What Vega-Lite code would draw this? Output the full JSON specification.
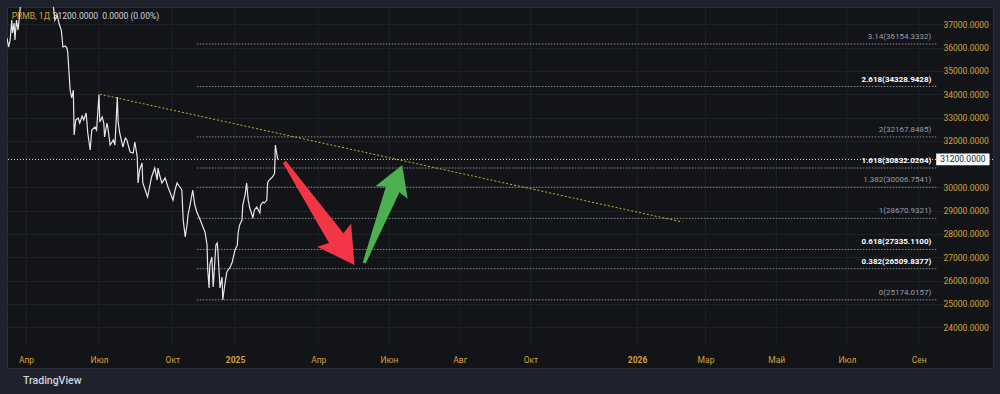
{
  "$schema": "https://vega.github.io/schema/vega-lite/v6.json",
  "width": 986,
  "height": 361,
  "autosize": {"type": "none"},
  "padding": {"left": 7, "top": 7, "right": 7, "bottom": 26},
  "background": "#1e222d",
  "config": {
    "font": "Roboto",
    "view": {"fill": "#121418", "stroke": "#2a2e39", "strokeWidth": 1},
    "axis": {"labelFont": "Roboto"},
    "text": {"font": "Roboto"}
  },
  "title": {
    "text": "TradingView",
    "orient": "bottom",
    "anchor": "start",
    "frame": "group",
    "color": "#d1d4dc",
    "fontSize": 10.5,
    "fontWeight": 500,
    "font": "Roboto",
    "dx": 16,
    "offset": 8
  },
  "resolve": {"axis": {"x": "independent", "y": "independent"}},
  "datasets": {
    "close": [
      {"date": "2024-03-08", "price": 36412},
      {"date": "2024-03-10", "price": 36026},
      {"date": "2024-03-12", "price": 36326},
      {"date": "2024-03-14", "price": 37185},
      {"date": "2024-03-15", "price": 36627},
      {"date": "2024-03-17", "price": 37056},
      {"date": "2024-03-18", "price": 36326},
      {"date": "2024-03-20", "price": 37185},
      {"date": "2024-03-22", "price": 36755},
      {"date": "2024-03-26", "price": 38150},
      {"date": "2024-03-30", "price": 38700},
      {"date": "2024-04-04", "price": 38350},
      {"date": "2024-04-09", "price": 39000},
      {"date": "2024-04-15", "price": 38550},
      {"date": "2024-04-21", "price": 39100},
      {"date": "2024-04-26", "price": 38650},
      {"date": "2024-05-01", "price": 38900},
      {"date": "2024-05-04", "price": 38100},
      {"date": "2024-05-07", "price": 37185},
      {"date": "2024-05-10", "price": 37399},
      {"date": "2024-05-12", "price": 37056},
      {"date": "2024-05-15", "price": 36755},
      {"date": "2024-05-17", "price": 36026},
      {"date": "2024-05-20", "price": 36069},
      {"date": "2024-05-22", "price": 35983},
      {"date": "2024-05-23", "price": 35811},
      {"date": "2024-05-26", "price": 34180},
      {"date": "2024-05-28", "price": 33837},
      {"date": "2024-05-30", "price": 34180},
      {"date": "2024-05-31", "price": 32249},
      {"date": "2024-06-02", "price": 32893},
      {"date": "2024-06-05", "price": 32978},
      {"date": "2024-06-07", "price": 32764},
      {"date": "2024-06-10", "price": 33064},
      {"date": "2024-06-12", "price": 32893},
      {"date": "2024-06-15", "price": 33193},
      {"date": "2024-06-17", "price": 32335},
      {"date": "2024-06-20", "price": 31605},
      {"date": "2024-06-22", "price": 32463},
      {"date": "2024-06-26", "price": 32592},
      {"date": "2024-06-28", "price": 32463},
      {"date": "2024-07-01", "price": 33990},
      {"date": "2024-07-02", "price": 32807},
      {"date": "2024-07-05", "price": 33021},
      {"date": "2024-07-07", "price": 32764},
      {"date": "2024-07-08", "price": 32163},
      {"date": "2024-07-11", "price": 32764},
      {"date": "2024-07-12", "price": 32592},
      {"date": "2024-07-15", "price": 31820},
      {"date": "2024-07-19", "price": 32035},
      {"date": "2024-07-21", "price": 31820},
      {"date": "2024-07-24", "price": 33880},
      {"date": "2024-07-25", "price": 32807},
      {"date": "2024-07-27", "price": 32335},
      {"date": "2024-07-31", "price": 31734},
      {"date": "2024-08-03", "price": 32120},
      {"date": "2024-08-05", "price": 32035},
      {"date": "2024-08-09", "price": 31519},
      {"date": "2024-08-13", "price": 31476},
      {"date": "2024-08-15", "price": 31949},
      {"date": "2024-08-18", "price": 31305},
      {"date": "2024-08-19", "price": 30189},
      {"date": "2024-08-21", "price": 30747},
      {"date": "2024-08-24", "price": 31047},
      {"date": "2024-08-25", "price": 30189},
      {"date": "2024-08-28", "price": 29888},
      {"date": "2024-08-31", "price": 29588},
      {"date": "2024-09-03", "price": 30103},
      {"date": "2024-09-05", "price": 30446},
      {"date": "2024-09-09", "price": 30832},
      {"date": "2024-09-12", "price": 30317},
      {"date": "2024-09-13", "price": 30832},
      {"date": "2024-09-15", "price": 30532},
      {"date": "2024-09-18", "price": 30189},
      {"date": "2024-09-22", "price": 30403},
      {"date": "2024-09-26", "price": 29974},
      {"date": "2024-09-28", "price": 29802},
      {"date": "2024-10-02", "price": 29459},
      {"date": "2024-10-05", "price": 29888},
      {"date": "2024-10-08", "price": 30189},
      {"date": "2024-10-12", "price": 30017},
      {"date": "2024-10-15", "price": 29888},
      {"date": "2024-10-17", "price": 28601},
      {"date": "2024-10-20", "price": 27871},
      {"date": "2024-10-23", "price": 28472},
      {"date": "2024-10-24", "price": 28815},
      {"date": "2024-10-27", "price": 29244},
      {"date": "2024-10-31", "price": 29888},
      {"date": "2024-11-03", "price": 29244},
      {"date": "2024-11-06", "price": 28944},
      {"date": "2024-11-11", "price": 28601},
      {"date": "2024-11-15", "price": 28300},
      {"date": "2024-11-18", "price": 28086},
      {"date": "2024-11-21", "price": 27528},
      {"date": "2024-11-22", "price": 26455},
      {"date": "2024-11-24", "price": 25682},
      {"date": "2024-11-25", "price": 26669},
      {"date": "2024-11-28", "price": 27013},
      {"date": "2024-11-30", "price": 25725},
      {"date": "2024-12-03", "price": 27098},
      {"date": "2024-12-04", "price": 27528},
      {"date": "2024-12-06", "price": 27614},
      {"date": "2024-12-07", "price": 27227},
      {"date": "2024-12-10", "price": 25682},
      {"date": "2024-12-13", "price": 26154},
      {"date": "2024-12-14", "price": 25174},
      {"date": "2024-12-17", "price": 25811},
      {"date": "2024-12-20", "price": 26369},
      {"date": "2024-12-25", "price": 26583},
      {"date": "2024-12-28", "price": 26798},
      {"date": "2025-01-01", "price": 27313},
      {"date": "2025-01-04", "price": 27528},
      {"date": "2025-01-05", "price": 28043},
      {"date": "2025-01-07", "price": 28386},
      {"date": "2025-01-10", "price": 28601},
      {"date": "2025-01-11", "price": 29244},
      {"date": "2025-01-14", "price": 29674},
      {"date": "2025-01-16", "price": 30189},
      {"date": "2025-01-18", "price": 29459},
      {"date": "2025-01-20", "price": 29116},
      {"date": "2025-01-23", "price": 28815},
      {"date": "2025-01-24", "price": 28687},
      {"date": "2025-01-26", "price": 29030},
      {"date": "2025-01-29", "price": 29159},
      {"date": "2025-02-02", "price": 28901},
      {"date": "2025-02-03", "price": 29244},
      {"date": "2025-02-06", "price": 29373},
      {"date": "2025-02-08", "price": 29330},
      {"date": "2025-02-11", "price": 29459},
      {"date": "2025-02-12", "price": 30189},
      {"date": "2025-02-14", "price": 30317},
      {"date": "2025-02-17", "price": 30403},
      {"date": "2025-02-20", "price": 30532},
      {"date": "2025-02-21", "price": 30618},
      {"date": "2025-02-22", "price": 31820},
      {"date": "2025-02-23", "price": 31605},
      {"date": "2025-02-25", "price": 31200}
    ],
    "trend": [
      {"date": "2024-07-02", "price": 34000},
      {"date": "2026-02-09", "price": 28515}
    ],
    "fib": [
      {"ratio": "3.14", "price": 36154.3332, "label": "3.14(36154.3332)"},
      {"ratio": "2.618", "price": 34328.9428, "label": "2.618(34328.9428)"},
      {"ratio": "2", "price": 32167.8485, "label": "2(32167.8485)"},
      {"ratio": "1.618", "price": 30832.0264, "label": "1.618(30832.0264)"},
      {"ratio": "1.382", "price": 30006.7541, "label": "1.382(30006.7541)"},
      {"ratio": "1", "price": 28670.9321, "label": "1(28670.9321)"},
      {"ratio": "0.618", "price": 27335.11, "label": "0.618(27335.1100)"},
      {"ratio": "0.382", "price": 26509.8377, "label": "0.382(26509.8377)"},
      {"ratio": "0", "price": 25174.0157, "label": "0(25174.0157)"}
    ],
    "lastPrice": [{"price": 31200, "label": "31200.0000"}],
    "arrows": [
      {"date": "2025-04-02", "price": 28880, "move": "down"},
      {"date": "2025-05-27", "price": 28858, "move": "up"}
    ],
    "header": [{"name": "PRMB, 1Д", "quote": "31200.0000\u00a0\u00a00.0000\u00a0(0.00%)", "price": 37356}],
    "monthTicks": [
      {"date": "2024-04-01"}, {"date": "2024-07-01"}, {"date": "2024-10-01"},
      {"date": "2025-01-01"}, {"date": "2025-04-01"}, {"date": "2025-06-01"},
      {"date": "2025-08-01"}, {"date": "2025-10-01"}, {"date": "2026-01-01"},
      {"date": "2026-03-01"}, {"date": "2026-05-01"}, {"date": "2026-07-01"},
      {"date": "2026-09-01"}
    ]
  },
  "layer": [
    {
      "data": {"name": "monthTicks"},
      "mark": {"type": "rule", "color": "#1e2129", "strokeWidth": 1},
      "encoding": {
        "x": {"field": "date", "type": "temporal", "axis": null,
          "scale": {"type": "utc", "padding": 0, "nice": false, "zero": false, "domain": {"expr": "[1709856000000, 1711929600000, 1719792000000, 1727740800000, 1735689600000, 1740441600000, 1793750400000]"}, "range": [0, 19, 92, 165.3, 228, 270.7, 986]}},
        "y": {"datum": 23236, "type": "quantitative", "axis": null, "scale": {"domain": [22248, 37743], "nice": false, "zero": false, "padding": 0}},
        "y2": {"datum": 37743}
      }
    },
    {
      "data": {"name": "fib"},
      "mark": {"type": "rule", "color": "#8a8d96", "strokeWidth": 1, "strokeDash": [1.5, 1.5]},
      "encoding": {
        "y": {"field": "price", "type": "quantitative", "axis": null},
        "x": {"datum": {"year": 2024, "month": 11, "date": 6, "utc": true}, "type": "temporal", "axis": null,
          "scale": {"type": "utc", "padding": 0, "nice": false, "zero": false, "domain": {"expr": "[1709856000000, 1711929600000, 1719792000000, 1727740800000, 1735689600000, 1740441600000, 1793750400000]"}, "range": [0, 19, 92, 165.3, 228, 270.7, 986]}},
        "x2": {"datum": {"year": 2026, "month": 9, "date": 17, "utc": true}}
      }
    },
    {
      "data": {"name": "lastPrice"},
      "mark": {"type": "rule", "color": "#d8d9dc", "strokeWidth": 1, "strokeDash": [1, 2]},
      "encoding": {
        "y": {"field": "price", "type": "quantitative", "axis": null}
      }
    },
    {
      "data": {"name": "trend"},
      "mark": {"type": "line", "color": "#b8b82a", "strokeWidth": 1, "strokeDash": [2, 2]},
      "encoding": {
        "x": {"field": "date", "type": "temporal", "axis": null,
          "scale": {"type": "utc", "padding": 0, "nice": false, "zero": false, "domain": {"expr": "[1709856000000, 1711929600000, 1719792000000, 1727740800000, 1735689600000, 1740441600000, 1793750400000]"}, "range": [0, 19, 92, 165.3, 228, 270.7, 986]}},
        "y": {"field": "price", "type": "quantitative", "axis": null}
      }
    },
    {
      "data": {"name": "close"},
      "mark": {"type": "line", "color": "#e6e6e6", "strokeWidth": 1.2, "clip": true},
      "encoding": {
        "x": {
          "field": "date", "type": "temporal",
          "scale": {"type": "utc", "padding": 0, "nice": false, "zero": false, "domain": {"expr": "[1709856000000, 1711929600000, 1719792000000, 1727740800000, 1735689600000, 1740441600000, 1793750400000]"}, "range": [0, 19, 92, 165.3, 228, 270.7, 986]},
          "axis": {
            "orient": "bottom",
            "offset": -15,
            "title": null,
            "domain": false,
            "ticks": false,
            "grid": false,
            "labelFlush": false,
            "labelOverlap": false,
            "labelPadding": 2,
            "labelColor": "#d4a23a",
            "labelFontSize": 8.5,
            "labelFontWeight": {"condition": {"test": "utcmonth(datum.value)==0", "value": "bold"}, "value": "normal"},
            "values": [
              {"year": 2024, "month": 4, "date": 1, "utc": true},
              {"year": 2024, "month": 7, "date": 1, "utc": true},
              {"year": 2024, "month": 10, "date": 1, "utc": true},
              {"year": 2025, "month": 1, "date": 1, "utc": true},
              {"year": 2025, "month": 4, "date": 1, "utc": true},
              {"year": 2025, "month": 6, "date": 1, "utc": true},
              {"year": 2025, "month": 8, "date": 1, "utc": true},
              {"year": 2025, "month": 10, "date": 1, "utc": true},
              {"year": 2026, "month": 1, "date": 1, "utc": true},
              {"year": 2026, "month": 3, "date": 1, "utc": true},
              {"year": 2026, "month": 5, "date": 1, "utc": true},
              {"year": 2026, "month": 7, "date": 1, "utc": true},
              {"year": 2026, "month": 9, "date": 1, "utc": true}
            ],
            "labelExpr": "utcmonth(datum.value)==0 ? ('' + utcyear(datum.value)) : ['Янв','Фев','Мар','Апр','Май','Июн','Июл','Авг','Сен','Окт','Ноя','Дек'][utcmonth(datum.value)]"
          }
        },
        "y": {
          "field": "price", "type": "quantitative",
          "axis": {
            "orient": "right",
            "offset": -50,
            "title": null,
            "domain": false,
            "ticks": false,
            "grid": true,
            "gridColor": "#1e2129",
            "gridWidth": 1,
            "labelOverlap": false,
            "labelFlush": false,
            "labelPadding": 0,
            "labelAlign": "left",
            "labelBaseline": "middle",
            "labelColor": "#d4a23a",
            "labelFontSize": 8.5,
            "format": ".4f",
            "values": [24000, 25000, 26000, 27000, 28000, 29000, 30000, 32000, 33000, 34000, 35000, 36000, 37000]
          }
        }
      }
    },
    {
      "data": {"name": "fib"},
      "transform": [{"filter": "datum.ratio!='2.618' && datum.ratio!='1.618' && datum.ratio!='0.618' && datum.ratio!='0.382'"}],
      "mark": {"type": "text", "align": "right", "baseline": "middle", "dx": -6, "dy": -7, "fontSize": 8, "color": "#9a9da6"},
      "encoding": {
        "y": {"field": "price", "type": "quantitative", "axis": null},
        "x": {"datum": {"year": 2026, "month": 9, "date": 17, "utc": true}, "type": "temporal", "axis": null,
          "scale": {"type": "utc", "padding": 0, "nice": false, "zero": false, "domain": {"expr": "[1709856000000, 1711929600000, 1719792000000, 1727740800000, 1735689600000, 1740441600000, 1793750400000]"}, "range": [0, 19, 92, 165.3, 228, 270.7, 986]}},
        "text": {"field": "label"}
      }
    },
    {
      "data": {"name": "fib"},
      "transform": [{"filter": "datum.ratio=='2.618' || datum.ratio=='1.618' || datum.ratio=='0.618' || datum.ratio=='0.382'"}],
      "mark": {"type": "text", "align": "right", "baseline": "middle", "dx": -6, "dy": -7, "fontSize": 8, "fontWeight": "bold", "color": "#ffffff"},
      "encoding": {
        "y": {"field": "price", "type": "quantitative", "axis": null},
        "x": {"datum": {"year": 2026, "month": 9, "date": 17, "utc": true}, "type": "temporal", "axis": null,
          "scale": {"type": "utc", "padding": 0, "nice": false, "zero": false, "domain": {"expr": "[1709856000000, 1711929600000, 1719792000000, 1727740800000, 1735689600000, 1740441600000, 1793750400000]"}, "range": [0, 19, 92, 165.3, 228, 270.7, 986]}},
        "text": {"field": "label"}
      }
    },
    {
      "data": {"name": "arrows"},
      "transform": [{"filter": "datum.move=='down'"}],
      "mark": {"type": "point", "shape": "M0,-1L0.33,-0.42L0.14,-0.48L0.03,1L-0.03,1L-0.14,-0.48L-0.33,-0.42Z", "filled": true, "opacity": 1, "color": "#f23645", "strokeWidth": 0, "size": 15500, "angle": 145.8},
      "encoding": {
        "x": {"field": "date", "type": "temporal", "axis": null,
          "scale": {"type": "utc", "padding": 0, "nice": false, "zero": false, "domain": {"expr": "[1709856000000, 1711929600000, 1719792000000, 1727740800000, 1735689600000, 1740441600000, 1793750400000]"}, "range": [0, 19, 92, 165.3, 228, 270.7, 986]}},
        "y": {"field": "price", "type": "quantitative", "axis": null}
      }
    },
    {
      "data": {"name": "arrows"},
      "transform": [{"filter": "datum.move=='up'"}],
      "mark": {"type": "point", "shape": "M0,-1L0.33,-0.44L0.14,-0.5L0.03,1L-0.03,1L-0.14,-0.5L-0.33,-0.44Z", "filled": true, "opacity": 1, "color": "#4caf50", "strokeWidth": 0, "size": 11025, "angle": 21.2},
      "encoding": {
        "x": {"field": "date", "type": "temporal", "axis": null,
          "scale": {"type": "utc", "padding": 0, "nice": false, "zero": false, "domain": {"expr": "[1709856000000, 1711929600000, 1719792000000, 1727740800000, 1735689600000, 1740441600000, 1793750400000]"}, "range": [0, 19, 92, 165.3, 228, 270.7, 986]}},
        "y": {"field": "price", "type": "quantitative", "axis": null}
      }
    },
    {
      "data": {"name": "lastPrice"},
      "mark": {"type": "rect", "color": "#ffffff"},
      "encoding": {
        "x": {"datum": {"year": 2026, "month": 9, "date": 16, "utc": true}, "type": "temporal", "axis": null,
          "scale": {"type": "utc", "padding": 0, "nice": false, "zero": false, "domain": {"expr": "[1709856000000, 1711929600000, 1719792000000, 1727740800000, 1735689600000, 1740441600000, 1793750400000]"}, "range": [0, 19, 92, 165.3, 228, 270.7, 986]}},
        "x2": {"datum": {"year": 2026, "month": 11, "date": 1, "utc": true}},
        "y": {"datum": 31450, "type": "quantitative", "axis": null},
        "y2": {"datum": 30950}
      }
    },
    {
      "data": {"name": "lastPrice"},
      "mark": {"type": "text", "align": "center", "baseline": "middle", "fontSize": 8.5, "color": "#131722"},
      "encoding": {
        "x": {"datum": {"year": 2026, "month": 10, "date": 9, "utc": true}, "type": "temporal", "axis": null,
          "scale": {"type": "utc", "padding": 0, "nice": false, "zero": false, "domain": {"expr": "[1709856000000, 1711929600000, 1719792000000, 1727740800000, 1735689600000, 1740441600000, 1793750400000]"}, "range": [0, 19, 92, 165.3, 228, 270.7, 986]}},
        "y": {"field": "price", "type": "quantitative", "axis": null},
        "text": {"field": "label"}
      }
    },
    {
      "data": {"name": "header"},
      "mark": {"type": "text", "align": "left", "baseline": "middle", "fontSize": 8.5, "color": "#d4a23a"},
      "encoding": {
        "x": {"datum": {"year": 2024, "month": 3, "date": 14, "utc": true}, "type": "temporal", "axis": null,
          "scale": {"type": "utc", "padding": 0, "nice": false, "zero": false, "domain": {"expr": "[1709856000000, 1711929600000, 1719792000000, 1727740800000, 1735689600000, 1740441600000, 1793750400000]"}, "range": [0, 19, 92, 165.3, 228, 270.7, 986]}},
        "y": {"field": "price", "type": "quantitative", "axis": null},
        "text": {"field": "name"}
      }
    },
    {
      "data": {"name": "header"},
      "mark": {"type": "text", "align": "left", "baseline": "middle", "fontSize": 8.5, "color": "#d1d4dc", "dx": 41},
      "encoding": {
        "x": {"datum": {"year": 2024, "month": 3, "date": 14, "utc": true}, "type": "temporal", "axis": null,
          "scale": {"type": "utc", "padding": 0, "nice": false, "zero": false, "domain": {"expr": "[1709856000000, 1711929600000, 1719792000000, 1727740800000, 1735689600000, 1740441600000, 1793750400000]"}, "range": [0, 19, 92, 165.3, 228, 270.7, 986]}},
        "y": {"field": "price", "type": "quantitative", "axis": null},
        "text": {"field": "quote"}
      }
    }
  ]
}
